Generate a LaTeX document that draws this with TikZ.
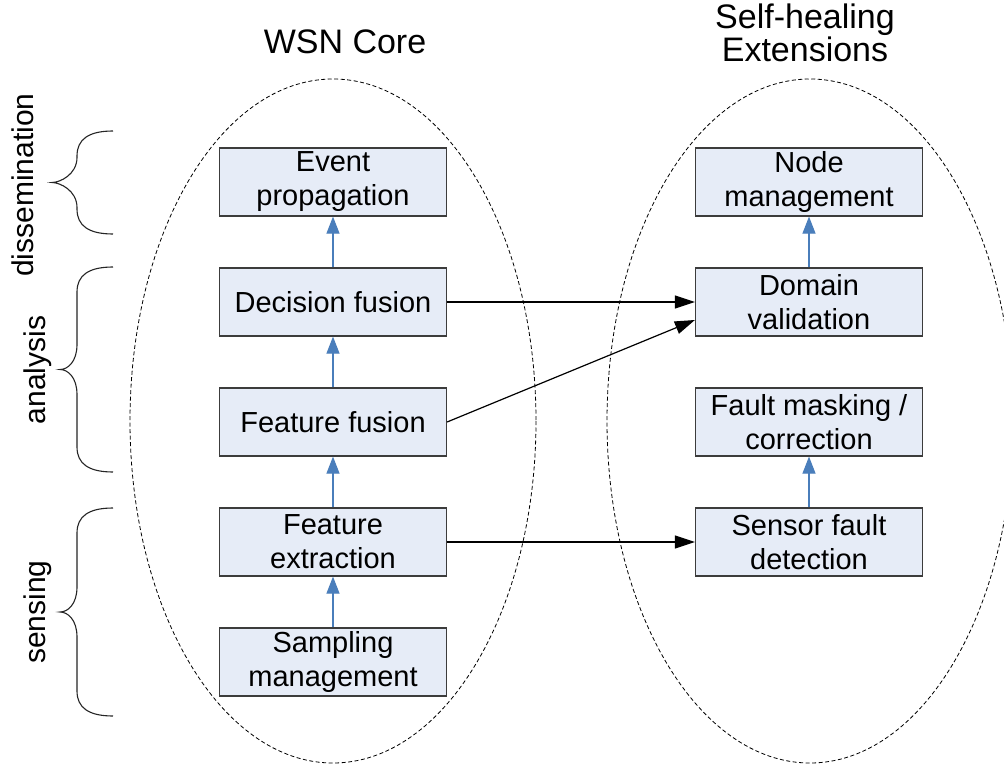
\documentclass[tikz,border=0pt]{standalone}
\usepackage{fontspec}
\setmainfont{Liberation Sans}
\usetikzlibrary{arrows.meta}
\definecolor{boxfill}{RGB}{230,236,247}
\definecolor{boxline}{RGB}{60,60,60}
\definecolor{flowblue}{RGB}{74,126,187}
\newcommand\sidebrace[5]{%
  % #1 right x, #2 top y, #3 bottom y, #4 tip x, #5 stem x
  \draw[bracestyle] (#1,#2) .. controls ({#5+12},#2) and (#5,{#2+8}) .. (#5,{#2+25})
    -- (#5,{(#2+#3)/2-25}) .. controls (#5,{(#2+#3)/2-8}) and ({#4+8},{(#2+#3)/2}) .. (#4,{(#2+#3)/2})
    .. controls ({#4+8},{(#2+#3)/2}) and (#5,{(#2+#3)/2+8}) .. (#5,{(#2+#3)/2+25})
    -- (#5,{#3-25}) .. controls (#5,{#3-8}) and ({#5+12},#3) .. (#1,#3);}
\begin{document}
\begin{tikzpicture}[x=1pt,y=-1pt,
  stage/.style={draw=boxline,line width=1.2pt,fill=boxfill,minimum width=227pt,
    minimum height=68pt,inner sep=2pt,align=center,
    font=\fontsize{29}{34}\selectfont},
  up/.style={draw=flowblue,line width=1.1pt,-{Triangle[length=17pt,width=13pt]}},
  link/.style={draw=black,line width=1.2pt,-{Triangle[length=20pt,width=13pt]}},
  bracestyle/.style={draw=black!85,line width=1.1pt},
  region/.style={draw=black,line width=0.8pt,dash pattern=on 4pt off 2.5pt},
  sidelabel/.style={rotate=90,anchor=base,font=\fontsize{30}{34}\selectfont},
  heading/.style={align=center,font=\fontsize{34}{31}\selectfont}]
\useasboundingbox (0,0) rectangle (1004,767);
\fill[white] (0,0) rectangle (1004,767);

% dashed regions
\draw[region] (333,421) ellipse [x radius=203, y radius=342];
\draw[region] (810,421) ellipse [x radius=203, y radius=342];

% headings
\node[heading] (core) at (345,42) {WSN Core};
\node[heading] (ext) at (805,33) {Self-healing\\Extensions};

% core stages
\node[stage] (evt) at (333,182) {Event\\propagation};
\node[stage] (dec) at (333,302) {Decision fusion};
\node[stage] (ffu) at (333,422) {Feature fusion};
\node[stage] (fex) at (333,542) {Feature\\extraction};
\node[stage] (smp) at (333,662) {Sampling\\management};

% self-healing stages
\node[stage] (nod) at (809,182) {Node\\management};
\node[stage] (dom) at (809,302) {Domain\\validation};
\node[stage] (msk) at (809,422) {Fault masking /\\correction};
\node[stage] (sfd) at (809,542) {Sensor fault\\detection};

% vertical flow
\draw[up] (smp.north) -- (fex.south);
\draw[up] (fex.north) -- (ffu.south);
\draw[up] (ffu.north) -- (dec.south);
\draw[up] (dec.north) -- (evt.south);
\draw[up] (dom.north) -- (nod.south);
\draw[up] (sfd.north) -- (msk.south);

% cross links
\draw[link] (dec.east) -- (dom.west);
\draw[link] (ffu.east) -- ([yshift=-18pt]dom.west);
\draw[link] (fex.east) -- (sfd.west);

% layer braces
\sidebrace{113}{131}{234}{52}{77}
\sidebrace{113}{267}{472}{60}{77}
\sidebrace{113}{508}{716}{60}{77}

\node[sidelabel] (ldis) at (34,185) {dissemination};
\node[sidelabel] (lana) at (45,370) {analysis};
\node[sidelabel] (lsen) at (45,612) {sensing};
\end{tikzpicture}
\end{document}
